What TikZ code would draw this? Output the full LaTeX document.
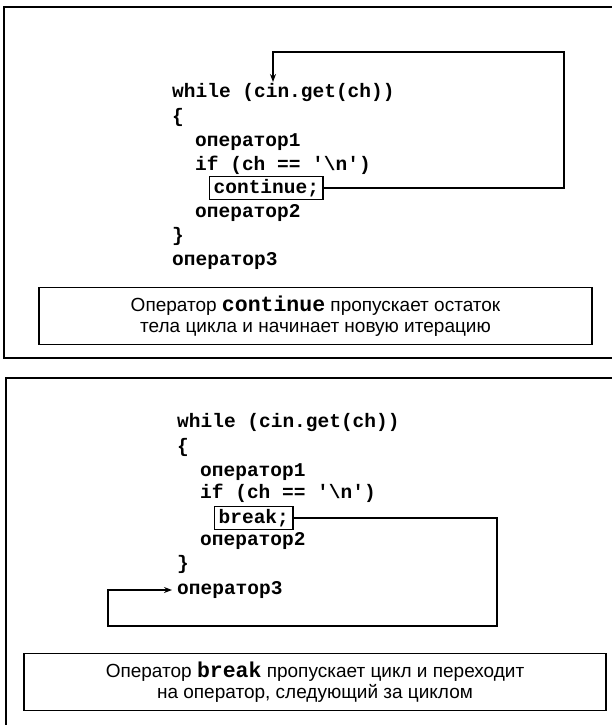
\documentclass[tikz,border=0pt]{standalone}
\usepackage{fontspec}
\setmainfont{Liberation Sans}
\setmonofont{Liberation Mono}
\usetikzlibrary{arrows.meta}
\tikzset{
  panel/.style={draw=black, line width=2.2pt},
  capbox/.style={draw=black, line width=1.4pt},
  code/.style={anchor=base west, inner sep=0pt, font=\ttfamily\bfseries\fontsize{19.5}{22}\selectfont},
  kwbox/.style={draw=black, line width=1.3pt, inner xsep=4pt, inner ysep=0pt, minimum height=23pt, anchor=west, font=\ttfamily\bfseries\fontsize{19.5}{22}\selectfont},
  captext/.style={align=center, inner sep=0pt, font=\fontsize{19}{21}\selectfont},
  link/.style={draw=black, line width=1.3pt},
  tip/.style={-{Stealth[length=8pt,width=6pt]}}
}
\newcommand{\kw}[1]{{\ttfamily\bfseries\fontsize{21.5}{21}\selectfont #1}}
\begin{document}
\begin{tikzpicture}[x=1pt,y=-1pt]
\useasboundingbox (0,0) rectangle (611,725);
\fill[white] (0,0) rectangle (611,725);
% ---------- top panel ----------
\draw[panel] (4,7) rectangle (630,358);
\node[code] (w1) at (172,97) {while (cin.get(ch))};
\node[code] (b1) at (172,122) {\{};
\node[code] (o1a) at (195,146) {оператор1};
\node[code] (if1) at (195,170) {if (ch == '\textbackslash n')};
\node[kwbox] (cont) at (209,188) {continue;};
\node[code] (o2a) at (195,217) {оператор2};
\node[code] (c1) at (172,241) {\}};
\node[code] (o3a) at (172,265) {оператор3};
\coordinate (t1) at (273,82);
\draw[link,tip] (cont.east) -| (564,52) -| (t1);
\node[capbox, minimum width=553pt, minimum height=57pt] (cap1box) at (315.5,316) {};
\node[captext] (cap1) at (cap1box.center) {Оператор \kw{continue} пропускает остаток\\тела цикла и начинает новую итерацию};
% ---------- bottom panel ----------
\draw[panel] (6,378) rectangle (630,740);
\node[code] (w2) at (177,427) {while (cin.get(ch))};
\node[code] (b2) at (177,452) {\{};
\node[code] (o1b) at (200,476) {оператор1};
\node[code] (if2) at (200,498) {if (ch == '\textbackslash n')};
\node[kwbox] (brk) at (214,518) {break;};
\node[code] (o2b) at (200,545) {оператор2};
\node[code] (c2) at (177,569) {\}};
\node[code] (o3b) at (177,594) {оператор3};
\coordinate (t2) at (172,590);
\draw[link,tip] (brk.east) -| (497,626) -| (108,590) -- (t2);
\node[capbox, minimum width=582pt, minimum height=57pt] (cap2box) at (315,682) {};
\node[captext] (cap2) at (cap2box.center) {Оператор \kw{break} пропускает цикл и переходит\\на оператор, следующий за циклом};
\end{tikzpicture}
\end{document}
